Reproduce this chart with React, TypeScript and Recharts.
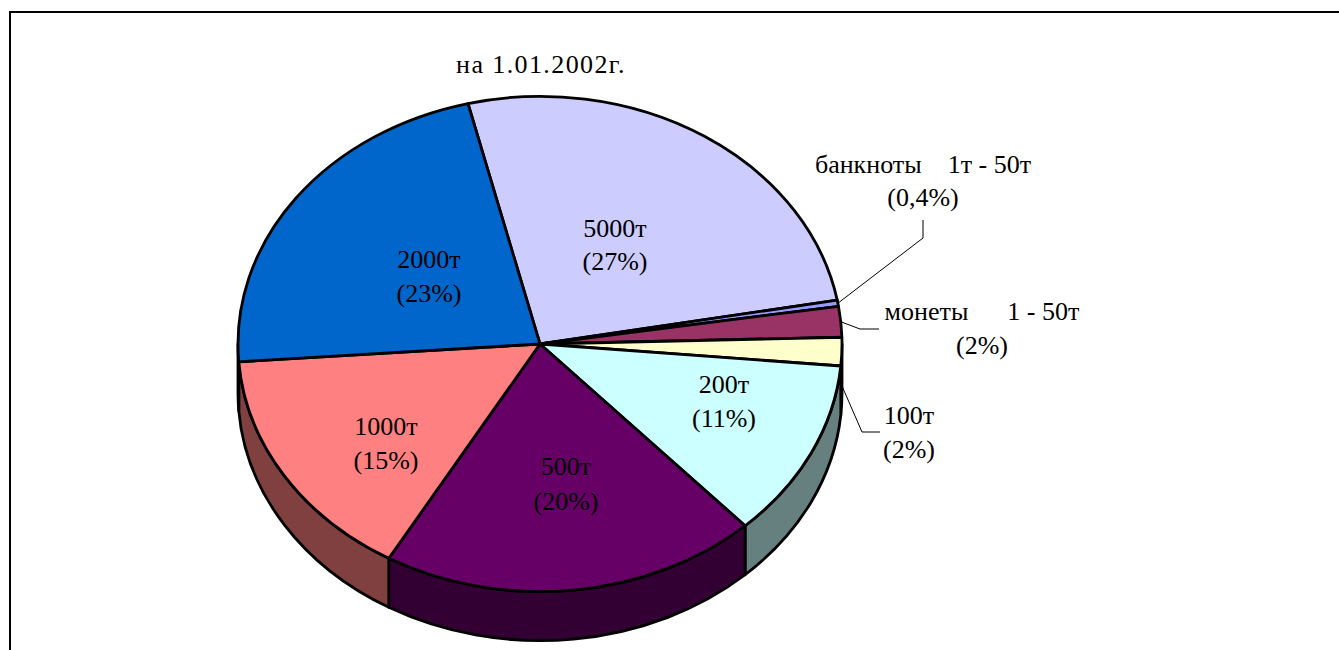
import React from 'react';
import { PieChart, Pie } from 'recharts';

// slice sizes (clockwise from the 5000т slice)
const denominations = ['5000т', 'банкноты 1т - 50т', 'монеты 1 - 50т', '100т', '200т', '500т', '1000т', '2000т'];
const shares = [26.0, 0.4, 2.0, 1.85, 11.7, 20.23, 15.51, 22.31];
const shareLabels = ['(27%)', '(0,4%)', '(2%)', '(2%)', '(11%)', '(20%)', '(15%)', '(23%)'];
const topColors = ['#ccccff', '#9999ff', '#993366', '#ffffcc', '#ccffff', '#660066', '#ff8080', '#0066cc'];
const sideColors = ['#666680', '#4d4d80', '#4d1a33', '#808066', '#668080', '#330033', '#804040', '#003366'];

const tableData = denominations.map((name, i) => ({
  name,
  value: shares[i],
  top: topColors[i],
  side: sideColors[i],
}));

const CX = 540;
const CY = 344;
const RX = 302;
const SQUASH = 0.82;
const DEPTH = 49;
const FONT = '"Liberation Serif", "Times New Roman", serif';
const FONT_SIZE = 26;

// label anchors, in chart pixels
const labelSpots = [
  { x: 615, line1: 237, line2: 270, name: '5000т' },
  { x: 923, line1: 173, line2: 206, name: 'банкноты    1т - 50т' },
  { x: 982, line1: 320, line2: 354, name: 'монеты      1 - 50т' },
  { x: 909, line1: 424, line2: 458, name: '100т' },
  { x: 724, line1: 393, line2: 427, name: '200т' },
  { x: 566, line1: 475, line2: 510, name: '500т' },
  { x: 386, line1: 435, line2: 469, name: '1000т' },
  { x: 429, line1: 268, line2: 302, name: '2000т' },
];

// leader lines only on the three thin slices: elbow then end point
const leaders: Record<number, { elbow: [number, number]; end: [number, number] }> = {
  1: { elbow: [923, 238], end: [923, 220] },
  2: { elbow: [860, 329], end: [879, 329] },
  3: { elbow: [862, 432], end: [880, 432] },
};

function edgePoint(angle: number, radius: number, dy = 0) {
  const rad = (angle * Math.PI) / 180;
  return {
    x: CX + radius * Math.cos(rad),
    y: CY - radius * SQUASH * Math.sin(rad) + dy,
  };
}

function TopSlice(props: any) {
  const { outerRadius, startAngle, endAngle, payload } = props;
  const a = edgePoint(startAngle, outerRadius);
  const b = edgePoint(endAngle, outerRadius);
  const large = Math.abs(startAngle - endAngle) > 180 ? 1 : 0;
  const d = `M${CX},${CY}L${a.x},${a.y}A${outerRadius},${outerRadius * SQUASH} 0 ${large} 1 ${b.x},${b.y}Z`;
  return <path d={d} fill={payload.top} stroke="#000" strokeWidth={2.8} strokeLinejoin="round" />;
}

// wall under the front half of the pie
function SideSlice(props: any) {
  const { outerRadius, startAngle, endAngle, payload } = props;
  // angles run downwards, the front half is between 0 and -180
  const s = Math.min(startAngle, 0);
  const e = Math.max(endAngle, -180);
  if (s <= e) return <g />;
  const a = edgePoint(s, outerRadius);
  const b = edgePoint(e, outerRadius);
  const rx = outerRadius;
  const ry = outerRadius * SQUASH;
  const d = `M${a.x},${a.y}A${rx},${ry} 0 0 1 ${b.x},${b.y}L${b.x},${b.y + DEPTH}A${rx},${ry} 0 0 0 ${a.x},${a.y + DEPTH}Z`;
  return <path d={d} fill={payload.side} stroke="#000" strokeWidth={2.8} strokeLinejoin="round" />;
}

function SliceLabel(props: any) {
  const { index, outerRadius, startAngle, endAngle } = props;
  const spot = labelSpots[index];
  const leader = leaders[index];
  const mid = (startAngle + endAngle) / 2;
  const from = edgePoint(mid, outerRadius, index === 3 ? 34 : 0);
  return (
    <g>
      {leader && (
        <polyline
          points={`${from.x},${from.y} ${leader.elbow[0]},${leader.elbow[1]} ${leader.end[0]},${leader.end[1]}`}
          fill="none"
          stroke="#000"
          strokeWidth={1}
        />
      )}
      <text x={spot.x} y={spot.line1} textAnchor="middle" fontFamily={FONT} fontSize={FONT_SIZE} fill="#000" xmlSpace="preserve">
        {spot.name}
      </text>
      <text x={spot.x} y={spot.line2} textAnchor="middle" fontFamily={FONT} fontSize={FONT_SIZE} fill="#000">
        {shareLabels[index]}
      </text>
    </g>
  );
}

export default function App() {
  return (
    <div style={{ position: 'fixed', left: 0, top: 0, width: 1339, height: 650, overflow: 'hidden', background: '#fff' }}>
      <div
        style={{
          position: 'absolute',
          left: 9,
          top: 11,
          width: 1400,
          height: 700,
          border: '2px solid #000',
        }}
      />
      <div style={{ position: 'absolute', left: 0, top: 0 }}>
        <PieChart width={1339} height={650} margin={{ top: 0, right: 0, bottom: 0, left: 0 }}>
          <text x={541} y={73} textAnchor="middle" fontFamily={FONT} fontSize={FONT_SIZE} letterSpacing={1.4} fill="#000">
            на 1.01.2002г.
          </text>
          <Pie
            data={tableData}
            dataKey="value"
            cx={CX}
            cy={CY}
            outerRadius={RX}
            startAngle={103.8}
            endAngle={-256.2}
            paddingAngle={0}
            shape={SideSlice}
            isAnimationActive={false}
            legendType="none"
          />
          <Pie
            data={tableData}
            dataKey="value"
            cx={CX}
            cy={CY}
            outerRadius={RX}
            startAngle={103.8}
            endAngle={-256.2}
            paddingAngle={0}
            shape={TopSlice}
            label={SliceLabel}
            labelLine={false}
            isAnimationActive={false}
            legendType="none"
          />
        </PieChart>
      </div>
    </div>
  );
}
